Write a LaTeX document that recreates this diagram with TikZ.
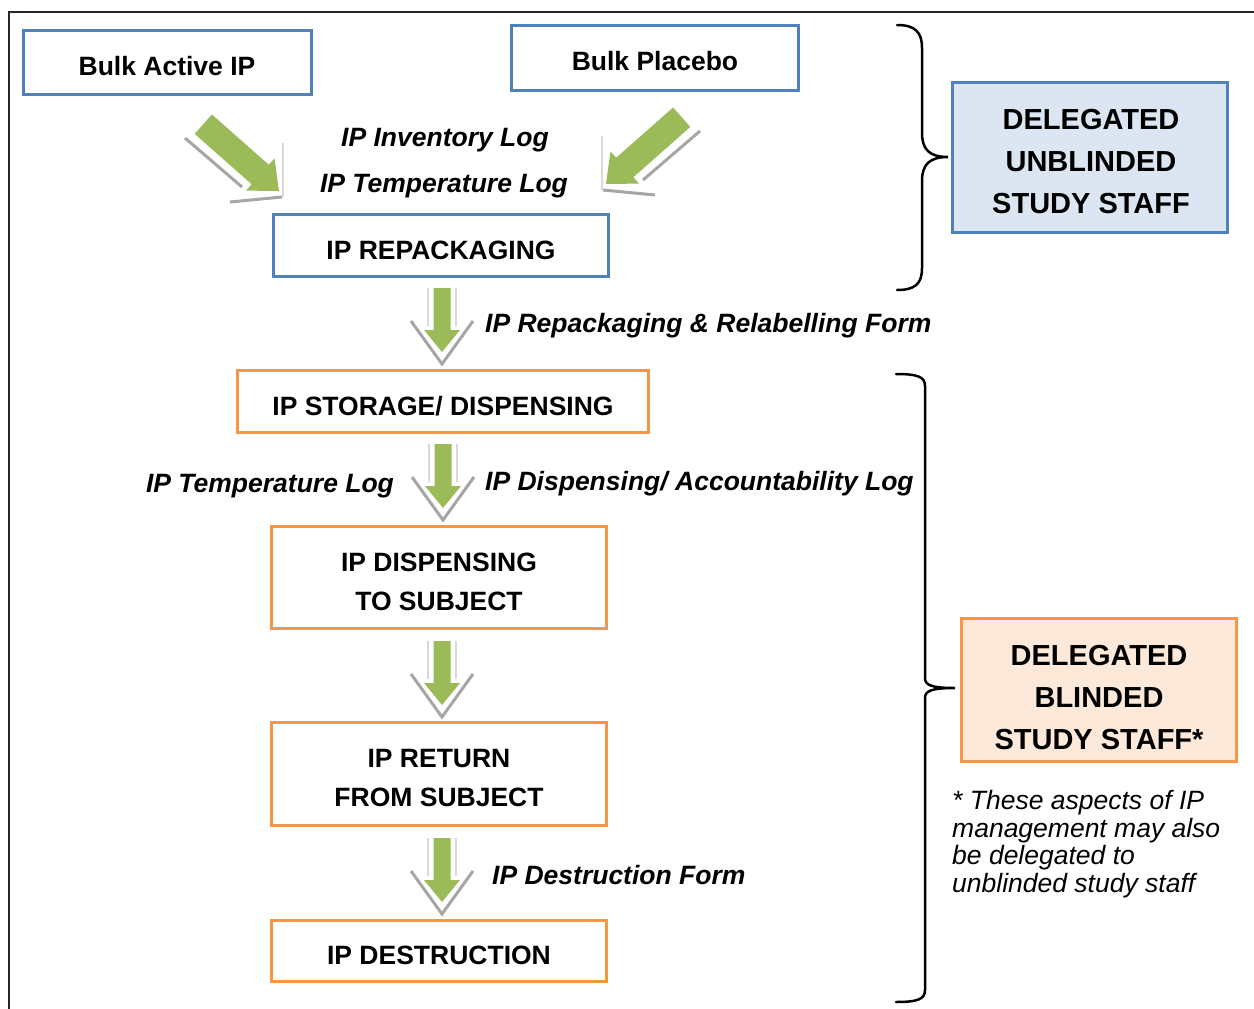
\documentclass[tikz,border=0pt]{standalone}
\usepackage{fontspec}
\setmainfont{Liberation Sans}
\usetikzlibrary{calc}
\definecolor{ipblue}{HTML}{4F81BD}
\definecolor{iporange}{HTML}{F79646}
\definecolor{ipgreen}{HTML}{9BBB59}
\definecolor{ipbluefill}{HTML}{DCE6F2}
\definecolor{ippeach}{HTML}{FDE9D9}
\definecolor{shadowgrey}{HTML}{A6A6A6}
\definecolor{faintgrey}{HTML}{D9D9D9}
\tikzset{
  bluebox/.style={draw=ipblue, line width=3pt, inner sep=0pt},
  orangebox/.style={draw=iporange, line width=3pt, inner sep=0pt},
  boxtext/.style={inner sep=0pt, align=center, font=\fontsize{26.5}{39}\selectfont\bfseries},
  sidetext/.style={inner sep=0pt, align=center, font=\fontsize{29}{42}\selectfont\bfseries},
  formlabel/.style={inner sep=0pt, font=\fontsize{26.5}{30}\selectfont\bfseries\itshape},
  notetext/.style={inner sep=0pt, align=left, font=\fontsize{26.5}{27.7}\selectfont\itshape},
  bracepath/.style={draw=black, line width=2.5pt, line cap=round},
  downarrow/.pic={
    \draw[faintgrey, line width=1.2pt] (-14,-64) -- (-14,-26) (14,-64) -- (14,-26);
    \draw[shadowgrey, line width=3pt] (-31,-31) -- (0,12) -- (31,-31);
    \fill[ipgreen] (-8.5,-64) -- (8.5,-64) -- (8.5,-22) -- (18,-22) -- (0,0) -- (-18,-22) -- (-8.5,-22) -- cycle;
  },
  diagarrow/.pic={
    \draw[faintgrey, line width=1.5pt] (4,-48) -- (4,6);
    \draw[shadowgrey, line width=3pt] (-94,-53) -- (-37,-4);
    \draw[shadowgrey, line width=3pt] (-49,11) -- (3,6);
    \fill[ipgreen] (0,0) -- (-4.5,-32.6) -- (-10.2,-26.3) -- (-67.1,-76.5) -- (-84.3,-57.1) -- (-27.4,-6.8) -- (-33,-0.4) -- cycle;
  }
}
\begin{document}
\begin{tikzpicture}[x=1pt,y=-1pt]
\useasboundingbox (0,0) rectangle (1254,1009);
% frame
\draw[line width=1.5pt, black!85] (9,1009) -- (9,12) -- (1254,12);

% boxes
\node[bluebox, minimum width=288pt, minimum height=64pt] (bulkA) at (167.5,62.5) {};
\node[boxtext] (bulkAT) at (167,66) {Bulk Active IP};
\node[bluebox, minimum width=287pt, minimum height=65pt] (bulkP) at (655,58) {};
\node[boxtext] (bulkPT) at (655,61) {Bulk Placebo};
\node[bluebox, minimum width=335pt, minimum height=62pt] (rep) at (441,245.5) {};
\node[boxtext] (repT) at (441,250) {IP REPACKAGING};
\node[bluebox, fill=ipbluefill, minimum width=275pt, minimum height=150pt] (unbl) at (1090,157.5) {};
\node[sidetext] (unblT) at (1091,162) {DELEGATED\\UNBLINDED\\STUDY STAFF};

\node[orangebox, minimum width=411pt, minimum height=62pt] (stor) at (443,401.5) {};
\node[boxtext] (storT) at (443,406) {IP STORAGE/ DISPENSING};
\node[orangebox, minimum width=335pt, minimum height=102pt] (disp) at (439,577.5) {};
\node[boxtext] (dispT) at (439,581.5) {IP DISPENSING\\TO SUBJECT};
\node[orangebox, minimum width=335pt, minimum height=103pt] (ret) at (439,774) {};
\node[boxtext] (retT) at (439,778.5) {IP RETURN\\FROM SUBJECT};
\node[orangebox, minimum width=335pt, minimum height=61pt] (dest) at (439,951) {};
\node[boxtext] (destT) at (439,955) {IP DESTRUCTION};
\node[orangebox, fill=ippeach, minimum width=275pt, minimum height=143pt] (bl) at (1099,690) {};
\node[sidetext] (blT) at (1099,698) {DELEGATED\\BLINDED\\STUDY STAFF*};

% labels
\node[formlabel] (invlog) at (445,140) {IP Inventory Log};
\node[formlabel] (templog1) at (444,186) {IP Temperature Log};
\node[formlabel, anchor=west] (repform) at (485,326) {IP Repackaging \& Relabelling Form};
\node[formlabel] (templog2) at (270,486) {IP Temperature Log};
\node[formlabel, anchor=west] (displog) at (485,484) {IP Dispensing/ Accountability Log};
\node[formlabel, anchor=west] (destform) at (492,875) {IP Destruction Form};
\node[notetext, anchor=north west] (note) at (952,790) {* These aspects of IP\\management may also\\be delegated to\\unblinded study staff};

% block arrows
\pic at (279,191) {diagarrow};
\pic[xscale=-1] at (606,184) {diagarrow};
\pic at ($(rep.south)+(1,74)$) {downarrow};
\pic at ($(stor.south)+(0,74)$) {downarrow};
\pic at ($(disp.south)+(3,75)$) {downarrow};
\pic at ($(ret.south)+(3,75)$) {downarrow};

% braces
\coordinate (topTip) at (948,157);
\coordinate (lowTip) at (955,688);
\path[bracepath] (897,25) .. controls (915,25) and (922,32) .. (922,48) -- (922,133)
  .. controls (922,150) and (930,157) .. (topTip)
  .. controls (930,157) and (922,164) .. (922,181) -- (922,268)
  .. controls (922,284) and (915,290) .. (897,290);
\path[bracepath] (896,374) .. controls (918,374) and (925,377) .. (925,386) -- (925,678)
  .. controls (925,685) and (931,688) .. (lowTip)
  .. controls (931,688) and (925,691) .. (925,698) -- (925,990)
  .. controls (925,999) and (918,1002) .. (896,1002);
\end{tikzpicture}
\end{document}
